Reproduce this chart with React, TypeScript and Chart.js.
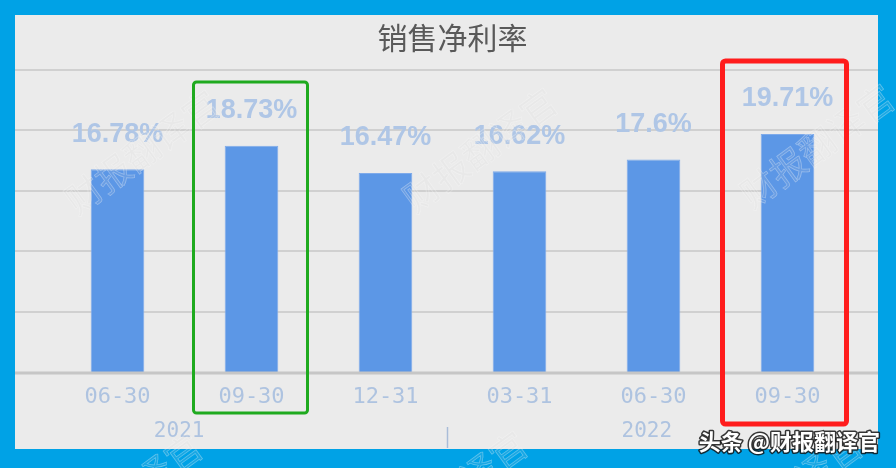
import React, { useEffect, useRef } from 'react';
import Chart from 'chart.js/auto';
import type { ChartConfiguration, Plugin } from 'chart.js';

// Chart data
const periods = ['06-30', '09-30', '12-31', '03-31', '06-30', '09-30'];
const netMargin = [16.78, 18.73, 16.47, 16.62, 17.6, 19.71];
const years = ['2021', '2022'];
const chartTitle = '销售净利率';
const watermarkText = '财报翻译官';
const sourceTag = '头条 @财报翻译官';

const labelBlue = '#aec3e0';

// blue frame + grey panel behind everything
const framePlugin: Plugin<'bar'> = {
  id: 'frame',
  beforeDraw: (chart) => {
    const { ctx, width, height } = chart;
    ctx.save();
    ctx.fillStyle = '#00a2e6';
    ctx.fillRect(0, 0, width, height);
    ctx.fillStyle = '#ebebeb';
    ctx.fillRect(15, 15, width - 33, height - 34);
    ctx.restore();
  },
};

// horizontal grid lines across the whole panel
const gridPlugin: Plugin<'bar'> = {
  id: 'fullGrid',
  beforeDatasetsDraw: (chart) => {
    const { ctx } = chart;
    const y = chart.scales.y;
    ctx.save();
    ctx.strokeStyle = '#d0d0d0';
    ctx.lineWidth = 2;
    y.ticks.forEach((t) => {
      if (t.value === 0) return;
      const py = Math.round(y.getPixelForValue(t.value));
      ctx.beginPath();
      ctx.moveTo(15, py);
      ctx.lineTo(878, py);
      ctx.stroke();
    });
    ctx.restore();
  },
  afterDatasetsDraw: (chart) => {
    const { ctx } = chart;
    const py = Math.round(chart.scales.y.getPixelForValue(0)) + 1;
    ctx.save();
    ctx.strokeStyle = '#c6c6c6';
    ctx.lineWidth = 3;
    ctx.beginPath();
    ctx.moveTo(15, py);
    ctx.lineTo(878, py);
    ctx.stroke();
    ctx.restore();
  },
};

// value labels above bars
const valueLabelPlugin: Plugin<'bar'> = {
  id: 'valueLabels',
  afterDatasetsDraw: (chart) => {
    const { ctx } = chart;
    const meta = chart.getDatasetMeta(0);
    ctx.save();
    ctx.font = 'bold 27px "Liberation Sans", Arial, sans-serif';
    ctx.fillStyle = '#afc6e6';
    ctx.textAlign = 'center';
    ctx.textBaseline = 'middle';
    meta.data.forEach((bar, i) => {
      ctx.fillText(`${netMargin[i]}%`, bar.x, bar.y - 35);
    });
    ctx.restore();
  },
};

// year row under the dates, plus separator
const yearPlugin: Plugin<'bar'> = {
  id: 'years',
  afterDraw: (chart) => {
    const { ctx } = chart;
    const x = chart.scales.x;
    const anchors = [0.46, 3.95];
    ctx.save();
    ctx.font = '21px "DejaVu Sans Mono", monospace';
    ctx.fillStyle = labelBlue;
    ctx.textAlign = 'center';
    ctx.textBaseline = 'middle';
    years.forEach((yr, i) => {
      ctx.fillText(yr, x.getPixelForValue(anchors[i]), 432);
    });
    const sx = Math.round(x.getPixelForValue(2.46)) + 0.5;
    ctx.strokeStyle = '#a9bcd8';
    ctx.lineWidth = 1.5;
    ctx.beginPath();
    ctx.moveTo(sx, 427);
    ctx.lineTo(sx, 448);
    ctx.stroke();
    ctx.restore();
  },
};

// diagonal watermark, highlight boxes and source tag
const overlayPlugin: Plugin<'bar'> = {
  id: 'overlay',
  afterDraw: (chart) => {
    const { ctx } = chart;
    const spots = [
      [142, 152], [480, 150], [817, 146],
      [125, 495], [450, 493], [785, 493],
    ];
    ctx.save();
    ctx.font = '36px "Noto Sans CJK SC", sans-serif';
    ctx.textAlign = 'center';
    ctx.textBaseline = 'middle';
    spots.forEach(([cx, cy]) => {
      ctx.save();
      ctx.translate(cx, cy);
      ctx.rotate(-0.63);
      ctx.strokeStyle = 'rgba(255,255,255,0.35)';
      ctx.lineWidth = 0.7;
      ctx.strokeText(watermarkText, 0, 0);
      ctx.fillStyle = 'rgba(210,210,210,0.12)';
      ctx.fillText(watermarkText, 0, 0);
      ctx.restore();
    });
    ctx.restore();

    const meta = chart.getDatasetMeta(0);
    const box = (i: number, half: number, shift: number, top: number, bottom: number, color: string, lw: number) => {
      const cx = meta.data[i].x + shift;
      ctx.save();
      ctx.strokeStyle = color;
      ctx.lineWidth = lw;
      ctx.beginPath();
      ctx.roundRect(cx - half, top, half * 2, bottom - top, 3);
      ctx.stroke();
      ctx.restore();
    };
    box(1, 57, -1, 82, 413, '#1faa1f', 3);
    box(5, 62, -3, 61, 424, '#ff1c1c', 5);

    ctx.save();
    ctx.font = 'bold 22px "Noto Sans CJK SC", sans-serif';
    ctx.textAlign = 'right';
    ctx.textBaseline = 'middle';
    ctx.lineJoin = 'round';
    ctx.strokeStyle = 'rgba(20,20,20,0.85)';
    ctx.lineWidth = 3;
    ctx.strokeText(sourceTag, 880, 442);
    ctx.fillStyle = '#ffffff';
    ctx.fillText(sourceTag, 880, 442);
    ctx.restore();
  },
};

const App: React.FC = () => {
  const chartRef = useRef<HTMLCanvasElement | null>(null);
  const chartInstance = useRef<Chart<'bar'> | null>(null);

  useEffect(() => {
    if (!chartRef.current) return;
    if (chartInstance.current) chartInstance.current.destroy();

    const config: ChartConfiguration<'bar'> = {
      type: 'bar',
      data: {
        labels: periods,
        datasets: [
          {
            data: netMargin,
            backgroundColor: '#5c97e6',
            borderColor: '#7eaaea',
            borderWidth: 1,
            barPercentage: 0.4,
            categoryPercentage: 1,
          },
        ],
      },
      options: {
        responsive: true,
        maintainAspectRatio: false,
        animation: false,
        layout: {
          padding: { left: 50.5, right: 41.5, top: 0, bottom: 45.6 },
        },
        plugins: {
          legend: { display: false },
          tooltip: { enabled: false },
          title: {
            display: true,
            text: chartTitle,
            color: '#595959',
            font: { family: '"Noto Sans CJK SC", sans-serif', size: 30, weight: 'normal', lineHeight: 1.2 },
            padding: { top: 20, bottom: 14 },
          },
        },
        scales: {
          x: {
            grid: { display: false, drawTicks: false },
            border: { display: false },
            ticks: {
              color: labelBlue,
              padding: 12,
              maxRotation: 0,
              minRotation: 0,
              font: { family: '"DejaVu Sans Mono", monospace', size: 22, lineHeight: 1.2 },
            },
          },
          y: {
            display: false,
            min: 0,
            max: 25,
            ticks: { stepSize: 5 },
          },
        },
      },
      plugins: [framePlugin, gridPlugin, valueLabelPlugin, yearPlugin, overlayPlugin],
    };

    chartInstance.current = new Chart(chartRef.current, config);

    return () => {
      if (chartInstance.current) {
        chartInstance.current.destroy();
        chartInstance.current = null;
      }
    };
  }, []);

  return (
    <div style={{ position: 'absolute', left: 0, top: 0, width: 896, height: 468 }}>
      <canvas ref={chartRef}></canvas>
    </div>
  );
};

export default App;
